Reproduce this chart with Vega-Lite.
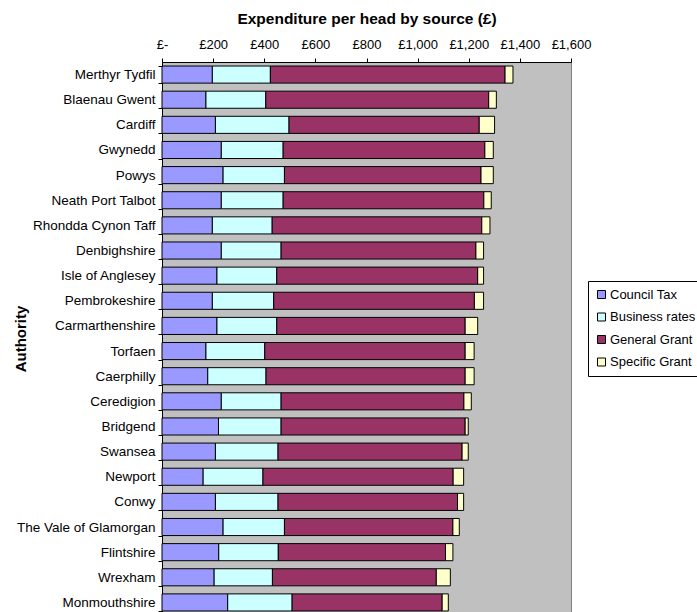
{
  "$schema": "https://vega.github.io/schema/vega-lite/v6.json",
  "autosize": {"type": "none"},
  "padding": {"left": 162, "top": 62, "right": 126, "bottom": 0},
  "width": 409,
  "height": 553,
  "background": "white",
  "config": {
    "font": "Liberation Sans",
    "view": {"fill": "#C0C0C0", "stroke": "#808080", "strokeWidth": 1}
  },
  "datasets": {
    "wide": [
      {"Authority": "Merthyr Tydfil", "Council Tax": 197, "Business rates": 227, "General Grant": 918, "Specific Grant": 31},
      {"Authority": "Blaenau Gwent", "Council Tax": 172, "Business rates": 234, "General Grant": 872, "Specific Grant": 30},
      {"Authority": "Cardiff", "Council Tax": 209, "Business rates": 288, "General Grant": 744, "Specific Grant": 60},
      {"Authority": "Gwynedd", "Council Tax": 232, "Business rates": 242, "General Grant": 789, "Specific Grant": 33},
      {"Authority": "Powys", "Council Tax": 239, "Business rates": 240, "General Grant": 769, "Specific Grant": 48},
      {"Authority": "Neath Port Talbot", "Council Tax": 232, "Business rates": 242, "General Grant": 785, "Specific Grant": 29},
      {"Authority": "Rhondda Cynon Taff", "Council Tax": 197, "Business rates": 234, "General Grant": 820, "Specific Grant": 32},
      {"Authority": "Denbighshire", "Council Tax": 232, "Business rates": 234, "General Grant": 762, "Specific Grant": 30},
      {"Authority": "Isle of Anglesey", "Council Tax": 215, "Business rates": 234, "General Grant": 786, "Specific Grant": 23},
      {"Authority": "Pembrokeshire", "Council Tax": 197, "Business rates": 240, "General Grant": 785, "Specific Grant": 36},
      {"Authority": "Carmarthenshire", "Council Tax": 215, "Business rates": 234, "General Grant": 737, "Specific Grant": 49},
      {"Authority": "Torfaen", "Council Tax": 172, "Business rates": 230, "General Grant": 784, "Specific Grant": 35},
      {"Authority": "Caerphilly", "Council Tax": 179, "Business rates": 228, "General Grant": 779, "Specific Grant": 35},
      {"Authority": "Ceredigion", "Council Tax": 232, "Business rates": 234, "General Grant": 715, "Specific Grant": 29},
      {"Authority": "Bridgend", "Council Tax": 221, "Business rates": 245, "General Grant": 720, "Specific Grant": 12},
      {"Authority": "Swansea", "Council Tax": 209, "Business rates": 245, "General Grant": 720, "Specific Grant": 24},
      {"Authority": "Newport", "Council Tax": 161, "Business rates": 234, "General Grant": 744, "Specific Grant": 41},
      {"Authority": "Conwy", "Council Tax": 209, "Business rates": 245, "General Grant": 702, "Specific Grant": 24},
      {"Authority": "The Vale of Glamorgan", "Council Tax": 239, "Business rates": 240, "General Grant": 659, "Specific Grant": 25},
      {"Authority": "Flintshire", "Council Tax": 222, "Business rates": 233, "General Grant": 654, "Specific Grant": 29},
      {"Authority": "Wrexham", "Council Tax": 204, "Business rates": 228, "General Grant": 641, "Specific Grant": 55},
      {"Authority": "Monmouthshire", "Council Tax": 257, "Business rates": 252, "General Grant": 587, "Specific Grant": 24}
    ]
  },
  "data": {"name": "wide"},
  "transform": [
    {"fold": ["Council Tax", "Business rates", "General Grant", "Specific Grant"], "as": ["Source", "Value"]},
    {"calculate": "indexof(['Council Tax', 'Business rates', 'General Grant', 'Specific Grant'], datum.Source)", "as": "StackOrder"}
  ],
  "mark": {"type": "bar", "stroke": "black", "strokeWidth": 1},
  "encoding": {
    "y": {
      "field": "Authority",
      "type": "nominal",
      "sort": null,
      "scale": {"paddingInner": 0.32, "paddingOuter": 0.16},
      "axis": {
        "title": "Authority",
        "titleFont": "Liberation Sans",
        "titleFontSize": 15,
        "titleFontWeight": "bold",
        "titleColor": "black",
        "titleX": -142,
        "titleBaseline": "middle",
        "labelFont": "Liberation Sans",
        "labelFontSize": 13.5,
        "labelColor": "black",
        "labelPadding": 3,
        "tickBand": "extent",
        "tickSize": 4,
        "tickColor": "black",
        "domainColor": "black",
        "grid": false
      }
    },
    "x": {
      "field": "Value",
      "type": "quantitative",
      "stack": "zero",
      "scale": {"domain": [0, 1600], "nice": false},
      "axis": {
        "orient": "top",
        "title": "Expenditure per head by source (£)",
        "titleFont": "Liberation Sans",
        "titleFontSize": 15.5,
        "titleFontWeight": "bold",
        "titleColor": "black",
        "titleY": -44,
        "titleBaseline": "middle",
        "values": [0, 200, 400, 600, 800, 1000, 1200, 1400, 1600],
        "labelExpr": "datum.value == 0 ? '£-' : '£' + format(datum.value, ',')",
        "labelFont": "Liberation Sans",
        "labelFontSize": 13,
        "labelColor": "black",
        "labelPadding": 7,
        "labelFlush": false,
        "labelOverlap": false,
        "tickSize": 4,
        "tickColor": "black",
        "domainColor": "black",
        "grid": false
      }
    },
    "order": {"field": "StackOrder", "type": "quantitative", "sort": "ascending"},
    "color": {
      "field": "Source",
      "type": "nominal",
      "sort": ["Council Tax", "Business rates", "General Grant", "Specific Grant"],
      "scale": {
        "domain": ["Council Tax", "Business rates", "General Grant", "Specific Grant"],
        "range": ["#9999FF", "#CCFFFF", "#993366", "#FFFFCC"]
      },
      "legend": {
        "title": null,
        "orient": "none",
        "legendX": 426,
        "legendY": 219,
        "strokeColor": "black",
        "fillColor": "white",
        "padding": 7,
        "symbolType": "square",
        "symbolSize": 64,
        "symbolStrokeColor": "black",
        "symbolStrokeWidth": 1,
        "symbolOpacity": 1,
        "labelFont": "Liberation Sans",
        "labelFontSize": 13,
        "labelColor": "black",
        "labelOffset": 2,
        "rowPadding": 8.5
      }
    }
  }
}
